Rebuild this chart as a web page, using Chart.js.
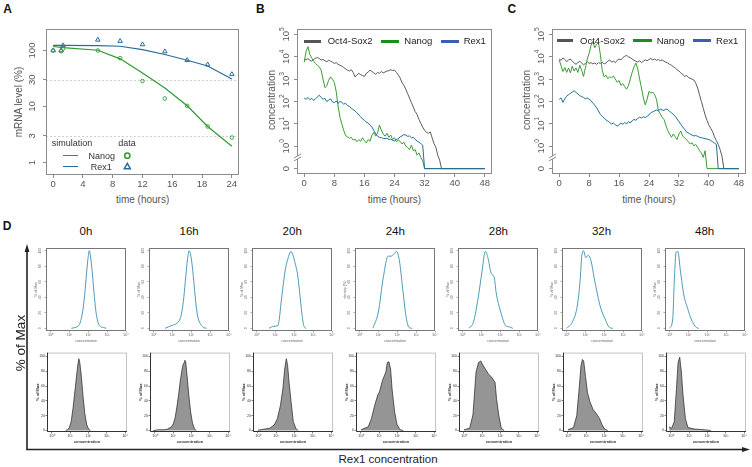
<!DOCTYPE html>
<html>
<head>
<meta charset="utf-8">
<title>Nanog / Rex1 decay</title>
<script src="https://cdn.jsdelivr.net/npm/chart.js@4.4.1/dist/chart.umd.min.js"></script>
<style>
  html, body { margin: 0; padding: 0; background: #fff; }
  body { position: relative; width: 752px; height: 467px; overflow: hidden;
         font-family: "Liberation Sans", Arial, Helvetica, sans-serif; }
  canvas { position: absolute; }
  .txt { position: absolute; white-space: nowrap; line-height: 1; transform: translate(-50%, -50%); }
  .rot { transform: translate(-50%, -50%) rotate(-90deg); }
  .lft { transform: translate(0, -50%); }
  .bar { position: absolute; }
</style>
</head>
<body>
<svg width="752" height="467" style="position:absolute;left:0;top:0">
  <line x1="27" y1="250" x2="27" y2="449.5" stroke="#222" stroke-width="1.6"/>
  <polygon points="27,244 24.6,252 29.4,252" fill="#222"/>
  <line x1="26.2" y1="449.5" x2="743" y2="449.5" stroke="#222" stroke-width="1.6"/>
  <polygon points="750,449.5 742,447.1 742,451.9" fill="#222"/>
</svg>
<script>
const FONT = '"Liberation Sans", Arial, Helvetica, sans-serif';

/* PANEL A - mRNA level, simulation vs data */
const aSimTimes  = [0, 1.33, 6, 9, 12, 15, 18, 20.75, 24];
const aNanogSim  = [118, 113, 101, 71, 39.5, 21.5, 10.3, 4.4, 1.95];
const aRex1Sim   = [123, 123, 122, 119, 104, 85, 67, 53, 31];
const aDataTimes = [0, 1.07, 1.33, 6, 9, 12, 15, 18, 20.75, 24];
const aNanogData = [100, 97, 108, 100, 73, 28.6, 13.9, 10.3, 4.4, 2.8];
const aRex1Data  = [100, 100, 123, 155, 147, 128, 96, 67, 56, 37.6];
const aXTicks  = [0, 4, 8, 12, 16, 20, 24];
const aXLabels = ['0', '4', '8', '12', '16', '18', '24'];
const aYTicks  = [1, 3, 10, 30, 100];
const aYLabels = ['1', '3', '10', '30', '100'];
const aDashed  = [3, 30];

/* PANELS B / C - log10 concentration every half hour, last value = "0" */
const trajStep = 0.5;
const trajEnd = 48;
const bOct4 = [
  3.90,3.86,3.92,3.84,3.80,3.88,3.93,3.97,3.92,3.85,
  3.88,3.82,3.78,3.84,3.80,3.76,3.70,3.74,3.66,3.62,
  3.58,3.52,3.46,3.40,3.36,3.42,3.30,3.10,3.18,3.26,
  3.20,3.16,3.12,3.26,3.32,3.40,3.34,3.28,3.22,3.30,
  3.26,3.34,3.28,3.32,3.36,3.38,3.42,3.38,3.40,3.30,
  3.18,3.05,2.85,2.72,2.55,2.35,2.15,1.95,1.75,1.55,
  1.42,1.20,1.02,0.85,0.72,0.62,0.58,0.64,0.38,0.12,
  -0.05,-0.40,-0.62,-1];
const bNanog = [
  3.75,4.25,4.45,4.10,3.95,3.80,3.70,3.62,3.55,3.40,
  3.00,2.62,2.70,2.95,3.10,3.00,2.85,2.45,1.80,1.30,
  1.00,0.70,0.48,0.42,0.35,0.40,0.28,0.32,0.20,0.30,
  0.22,0.38,0.25,0.15,0.30,0.22,0.50,0.62,0.45,0.60,
  0.95,0.72,0.55,0.45,0.58,0.40,0.50,0.30,0.38,0.20,
  0.28,0.22,0.10,0.18,0.00,-0.05,-0.15,0.05,-0.20,-0.15,
  -0.40,-0.30,-0.50,-0.65,-1];
const bRex1 = [
  2.15,2.10,2.18,2.08,2.14,2.05,2.12,2.20,2.28,2.18,
  2.10,2.14,2.00,2.06,2.12,1.98,1.95,2.02,1.92,2.00,
  1.96,1.88,1.92,1.82,1.78,1.70,1.64,1.58,1.50,1.40,
  1.32,1.22,1.16,1.08,1.04,0.94,0.86,0.70,0.55,0.45,
  0.40,0.38,0.35,0.34,0.36,0.30,0.32,0.26,0.24,0.30,
  0.34,0.42,0.46,0.52,0.50,0.44,0.46,0.38,0.40,0.30,
  0.24,0.18,0.12,0.05,-1];
const cOct4 = [
  3.90,3.84,3.95,3.88,3.78,3.86,3.90,3.80,3.72,3.66,
  3.74,3.80,3.72,3.64,3.70,3.78,3.70,3.74,3.68,3.72,
  3.66,3.74,3.70,3.76,3.68,3.72,3.80,3.86,3.76,3.80,
  3.74,3.84,3.90,3.86,3.96,4.02,4.06,4.00,3.96,3.90,
  3.84,3.80,3.76,3.82,3.74,3.80,3.86,3.82,3.88,3.92,
  3.86,3.90,3.84,3.88,3.82,3.86,3.80,3.76,3.72,3.66,
  3.62,3.56,3.50,3.42,3.36,3.28,3.22,3.12,3.16,3.08,
  3.04,3.00,2.96,2.82,2.60,2.30,2.00,1.70,1.40,1.15,
  0.95,0.80,0.65,0.42,0.25,0.08,-0.15,-0.45,-1];
const cNanog = [
  3.86,3.60,3.34,3.52,3.30,3.50,3.28,3.58,3.36,3.50,
  3.30,3.62,3.40,3.12,3.50,3.90,4.15,4.50,4.68,4.40,
  4.55,4.62,4.10,3.40,3.10,3.18,3.02,3.10,3.06,3.14,
  3.00,2.86,2.94,2.72,2.80,2.66,2.55,2.70,3.00,3.30,
  3.55,3.72,3.45,3.00,2.60,2.15,1.85,2.10,2.45,2.38,
  2.42,2.30,2.10,1.60,1.45,1.30,1.20,0.95,0.70,0.55,
  0.40,0.55,0.42,0.30,0.55,0.68,0.45,0.38,0.30,0.20,
  0.10,0.15,0.02,0.08,-0.05,-0.20,-0.30,-0.50,-0.20,-1];
const cRex1 = [
  2.09,2.16,1.96,2.12,2.24,2.30,2.36,2.42,2.48,2.40,
  2.34,2.26,2.22,2.18,2.12,2.16,2.10,2.04,1.92,1.84,
  1.72,1.58,1.42,1.34,1.26,1.18,1.12,1.06,1.00,1.04,
  0.96,0.90,0.96,1.04,0.98,1.06,1.00,1.10,1.04,1.14,
  1.20,1.16,1.24,1.30,1.26,1.32,1.28,1.34,1.40,1.50,
  1.54,1.58,1.62,1.58,1.66,1.62,1.60,1.66,1.64,1.56,
  1.50,1.42,1.34,1.22,1.10,0.98,0.86,0.76,0.64,0.60,
  0.54,0.50,0.46,0.48,0.44,0.40,0.38,0.36,0.34,0.32,
  0.30,0.26,0.20,0.14,0.08,-1];
const trajXTicks = [0, 8, 16, 24, 32, 40, 48];
const trajXLabels = ['0', '8', '16', '24', '32', '40', '48'];
const concTicks = [-1, 0, 1, 2, 3, 4, 5];
const concBase  = ['0', '10', '10', '10', '10', '10', '10'];
const concExp   = ['', '0', '1', '2', '3', '4', '5'];

/* PANEL D - Rex1 distributions (x = log10 concentration, y = % of max) */
const dTimes = ['0h', '16h', '20h', '24h', '28h', '32h', '48h'];
const sim0hX  = [1.1,1.3,1.5,1.6,1.7,1.8,1.9,2.0,2.05,2.1,2.2,2.3,2.4,2.5,2.6,2.8,2.95];
const sim0hY  = [0,1,4,10,22,42,70,94,100,95,74,46,22,9,3,1,0];
const sim16hX = [0.6,0.8,1.0,1.2,1.4,1.5,1.6,1.7,1.8,1.88,1.95,2.05,2.15,2.25,2.35,2.5,2.65,2.8];
const sim16hY = [0,2,4,6,12,22,40,66,90,100,96,80,55,30,14,5,1,0];
const sim20hX = [0.65,0.91,1.13,1.2,1.3,1.51,1.65,1.82,1.94,2.06,2.16,2.28,2.40,2.51,2.63];
const sim20hY = [0,2.6,3.5,12,34,74,89,99,93,82,71,47,19,2.6,0];
const sim24hX = [0.70,0.99,1.25,1.51,1.68,1.82,1.96,2.11,2.28,2.45,2.62,2.80];
const sim24hY = [0,21,65,93,93,96,99,87,52,17,1,0];
const sim28hX = [0.31,0.57,0.82,1.03,1.2,1.34,1.51,1.68,1.77,2.02,2.28,2.45,2.66];
const sim28hY = [0,8,39,74,99,91,71,65,47,21,3.5,2,0];
const sim32hX = [0,0.3,0.57,0.71,0.8,0.89,1.02,1.14,1.29,1.46,1.64,1.82,2.04,2.27,2.45];
const sim32hY = [0,8,30,61,93,100,91,94,87,65,43,25,12,1,0];
const sim48hX = [0,0.16,0.25,0.34,0.43,0.57,0.75,0.96,1.14,1.41,1.55];
const sim48hY = [0,12,65,98,99,74,43,25,12,1,0];
const hist0hX  = [0.75,0.85,0.95,1.05,1.15,1.25,1.35,1.42,1.47,1.52,1.6,1.7,1.8,1.9,2.0,2.1];
const hist0hY  = [0,1,4,12,30,52,75,90,97,92,75,46,22,8,2,0];
const hist16hX = [-0.1,0.2,0.5,0.7,0.9,1.0,1.1,1.2,1.3,1.4,1.5,1.55,1.6,1.63,1.68,1.75,1.85,1.95,2.05,2.15,2.25];
const hist16hY = [0,1,1,2,5,9,17,32,50,70,85,90,92,95,93,75,48,25,10,3,0];
const hist20hX = [0,0.63,0.89,1.06,1.23,1.36,1.46,1.55,1.62,1.70,1.81,1.93,2.07,2.19];
const hist20hY = [0.5,3,7.5,16,34,56,83,97,88,65,39,12,3,0];
const hist24hX = [0,0.40,0.57,0.75,0.92,1.01,1.18,1.36,1.44,1.53,1.62,1.70,1.84,1.97,2.14,2.31];
const hist24hY = [1,5,16,34,48,52,68,79,92,93,83,56,25,8,1,0];
const hist28hX = [0,0.31,0.49,0.57,0.66,0.80,0.92,1.0,1.17,1.35,1.52,1.70,1.78,1.90,2.04,2.2];
const hist28hY = [1,3,21,48,79,92,94,90,83,76,72,65,43,21,3,0];
const hist32hX = [0,0.3,0.48,0.61,0.71,0.79,0.86,0.96,1.07,1.2,1.38,1.55,1.73,1.86,2.0,2.18];
const hist32hY = [1,4,20,56,87,96,94,73,51,39,28,23,16,8,2,0];
const hist48hX = [-0.1,0.04,0.18,0.3,0.39,0.48,0.57,0.66,0.79,0.93,1.29,1.82,2.18];
const hist48hY = [5,3,12,56,92,99,79,48,16,4,2,1,0];
const dSimX = [sim0hX, sim16hX, sim20hX, sim24hX, sim28hX, sim32hX, sim48hX];
const dSimY = [sim0hY, sim16hY, sim20hY, sim24hY, sim28hY, sim32hY, sim48hY];
const dHistX = [hist0hX, hist16hX, hist20hX, hist24hX, hist28hX, hist32hX, hist48hX];
const dHistY = [hist0hY, hist16hY, hist20hY, hist24hY, hist28hY, hist32hY, hist48hY];
const dSimYTitles = ['% of Max', '% of Max', '% of Max', 'density (%)', '% of Max', '% of Max', '% of Max'];
const decadeTicks = [0, 1, 2, 3, 4];
const decadeLabels = ['10\u2070', '10\u00b9', '10\u00b2', '10\u00b3', '10\u2074'];
const pctTicks = [0, 20, 40, 60, 80, 100];
const pctLabels = ['0', '20', '40', '60', '80', '100'];

/* colours */
const GREEN_A = '#2f9a30', BLUE_A = '#2a6c9b';
const GRAY_L = '#5a5a5a', GREEN_L = '#3b9b33', TEAL_L = '#216e97';
const GRAY_K = '#555555', GREEN_K = '#17901a', BLUE_K = '#3a5fb2';
const SIM_D = '#3b8fb0';
const AXIS_TXT = '#555';

/* HELPERS */
function text(str, x, y, size, o = {}) {
  const d = document.createElement('div');
  d.className = 'txt' + (o.rot ? ' rot' : '') + (o.left ? ' lft' : '');
  d.textContent = str;
  d.style.left = x + 'px';
  d.style.top = y + 'px';
  d.style.fontSize = size + 'px';
  d.style.color = o.color || '#333';
  if (o.bold) d.style.fontWeight = 'bold';
  document.body.appendChild(d);
}

function bar(x, y, w, h, color) {
  const d = document.createElement('div');
  d.className = 'bar';
  d.style.cssText += `left:${x}px;top:${y - h / 2}px;width:${w}px;height:${h}px;background:${color}`;
  document.body.appendChild(d);
}

function makeCanvas(rect, m) {
  const c = document.createElement('canvas');
  const w = rect[2] + m.l + m.r, h = rect[3] + m.t + m.b;
  c.width = w; c.height = h;
  c.style.left = (rect[0] - m.l) + 'px';
  c.style.top = (rect[1] - m.t) + 'px';
  c.style.width = w + 'px';
  c.style.height = h + 'px';
  document.body.appendChild(c);
  return c;
}

function pts(xs, ys) {
  return xs.map((x, i) => ({ x: x, y: ys[i] }));
}

function traj(vals) {
  const p = vals.map((v, i) => ({ x: i * trajStep, y: v }));
  p.push({ x: trajEnd, y: vals[vals.length - 1] });
  return p;
}

function xAxis(m, min, max, ticks, labels, o) {
  return {
    type: 'linear', min: min, max: max,
    afterBuildTicks: s => { s.ticks = ticks.map(v => ({ value: v })); },
    afterFit: s => { s.height = m.b; },
    border: { display: false },
    grid: { drawOnChartArea: false, tickLength: o.tl, tickColor: o.tc, lineWidth: o.tw || 1 },
    ticks: {
      autoSkip: false, maxRotation: 0, minRotation: 0, padding: o.pad, color: o.color,
      font: { family: FONT, size: o.size },
      callback: (v, i) => labels[i]
    },
    title: o.title ? {
      display: true, text: o.title, color: o.titleColor || o.color, padding: 0,
      font: { family: FONT, size: o.titleSize, weight: o.titleBold ? 'bold' : 'normal' }
    } : { display: false }
  };
}

function yAxis(m, type, min, max, ticks, o) {
  return {
    type: type, min: min, max: max,
    afterBuildTicks: s => { s.ticks = ticks.map(v => ({ value: v })); },
    afterFit: s => { s.width = m.l; },
    border: { display: false },
    grid: { drawOnChartArea: false, tickLength: o.tl, tickColor: o.tc, lineWidth: o.tw || 1 },
    ticks: o.labels ? {
      autoSkip: false, padding: o.pad, color: o.color,
      font: { family: FONT, size: o.size },
      callback: (v, i) => o.labels[i]
    } : { display: false },
    title: o.title ? {
      display: true, text: o.title, color: o.titleColor || o.color, padding: 0,
      font: { family: FONT, size: o.titleSize, weight: o.titleBold ? 'bold' : 'normal' }
    } : { display: false }
  };
}

function baseOptions(m, x, y, plugins) {
  return {
    responsive: false, animation: false, devicePixelRatio: 1, events: [],
    layout: { padding: { left: 0, top: m.t, right: m.r, bottom: 0 } },
    plugins: Object.assign({ legend: { display: false }, tooltip: { enabled: false } }, plugins),
    scales: { x: x, y: y }
  };
}

/* PLUGINS */
const frame = {
  id: 'frame',
  afterDatasetsDraw(chart, args, o) {
    const { ctx, chartArea: a } = chart;
    ctx.save();
    ctx.lineWidth = 1;
    ctx.strokeStyle = o.color;
    ctx.strokeRect(a.left + 0.5, a.top + 0.5, a.width - 1, a.height - 1);
    if (o.axis) {
      ctx.strokeStyle = o.axis;
      ctx.beginPath();
      ctx.moveTo(a.left + 0.5, a.top);
      ctx.lineTo(a.left + 0.5, a.bottom - 0.5);
      ctx.lineTo(a.right, a.bottom - 0.5);
      ctx.stroke();
    }
    ctx.restore();
  }
};

const refs = {
  id: 'refs',
  beforeDatasetsDraw(chart, args, o) {
    if (!o.values) return;
    const { ctx, chartArea: a } = chart;
    ctx.save();
    ctx.strokeStyle = o.color;
    ctx.lineWidth = 1;
    ctx.setLineDash([2, 2]);
    o.values.forEach(v => {
      const y = Math.round(chart.scales.y.getPixelForValue(v)) + 0.5;
      ctx.beginPath(); ctx.moveTo(a.left, y); ctx.lineTo(a.right, y); ctx.stroke();
    });
    ctx.restore();
  }
};

const brk = {
  id: 'brk',
  afterDraw(chart, args, o) {
    if (o.value == null) return;
    const { ctx, chartArea: a } = chart;
    const y = chart.scales.y.getPixelForValue(o.value), x = a.left + 0.5;
    ctx.save();
    ctx.fillStyle = '#fff';
    ctx.fillRect(x - 4, y - 1.5, 8, 3);
    ctx.strokeStyle = o.color;
    ctx.lineWidth = 1;
    ctx.beginPath();
    ctx.moveTo(x - 3.5, y + 0.5); ctx.lineTo(x + 3.5, y - 3.5);
    ctx.moveTo(x - 3.5, y + 3.5); ctx.lineTo(x + 3.5, y - 0.5);
    ctx.stroke();
    ctx.restore();
  }
};

// rotated y tick labels (R style), with optional superscript
const rotY = {
  id: 'rotY',
  afterDraw(chart, args, o) {
    if (!o.values) return;
    const { ctx, chartArea: a } = chart;
    const s = chart.scales.y;
    const supSize = o.size * 0.7;
    ctx.save();
    ctx.fillStyle = o.color;
    ctx.textBaseline = 'middle';
    ctx.textAlign = 'left';
    o.values.forEach((v, i) => {
      const base = o.base[i], sup = o.exp ? o.exp[i] : '';
      ctx.font = o.size + 'px ' + FONT;
      const wb = ctx.measureText(base).width;
      ctx.font = supSize + 'px ' + FONT;
      const ws = sup ? ctx.measureText(sup).width : 0;
      ctx.save();
      ctx.translate(a.left - o.offset, s.getPixelForValue(v));
      ctx.rotate(-Math.PI / 2);
      const x0 = -(wb + ws) / 2;
      ctx.font = o.size + 'px ' + FONT;
      ctx.fillText(base, x0, 0);
      if (sup) {
        ctx.font = supSize + 'px ' + FONT;
        ctx.fillText(sup, x0 + wb, -o.size * 0.42);
      }
      ctx.restore();
    });
    ctx.restore();
  }
};

/* PANEL A */
const mA = { l: 24, r: 6, t: 4, b: 18 };
new Chart(makeCanvas([46, 28, 193, 147], mA), {
  type: 'line',
  data: {
    datasets: [
      { data: pts(aDataTimes, aNanogData), showLine: false, pointStyle: 'circle', pointRadius: 1.8,
        borderColor: GREEN_A, backgroundColor: 'rgba(0,0,0,0)', pointBorderWidth: 0.9 },
      { data: pts(aDataTimes, aRex1Data), showLine: false, pointStyle: 'triangle', pointRadius: 2.6,
        borderColor: BLUE_A, backgroundColor: 'rgba(0,0,0,0)', pointBorderWidth: 1 },
      { data: pts(aSimTimes, aNanogSim), borderColor: GREEN_A, borderWidth: 1.2, pointRadius: 0 },
      { data: pts(aSimTimes, aRex1Sim), borderColor: BLUE_A, borderWidth: 1.2, pointRadius: 0 }
    ]
  },
  options: baseOptions(mA,
    xAxis(mA, -0.96, 24.96, aXTicks, aXLabels, { tl: 3, tc: '#8c8c8c', pad: 1, color: AXIS_TXT, size: 9.5 }),
    yAxis(mA, 'logarithmic', 0.613, 242, aYTicks, { tl: 3, tc: '#8c8c8c' }),
    {
      frame: { color: '#8c8c8c' },
      refs: { values: aDashed, color: '#cfcfcf' },
      rotY: { values: aYTicks, base: aYLabels, offset: 13.2, size: 9.5, color: AXIS_TXT }
    }),
  plugins: [frame, refs, rotY]
});

/* PANELS B and C */
function trajChart(rect, oct4, nanog, rex1) {
  const m = { l: 24, r: 6, t: 4, b: 18 };
  new Chart(makeCanvas(rect, m), {
    type: 'line',
    data: {
      datasets: [
        { data: traj(rex1), borderColor: TEAL_L, borderWidth: 1, pointRadius: 0 },
        { data: traj(nanog), borderColor: GREEN_L, borderWidth: 1, pointRadius: 0 },
        { data: traj(oct4), borderColor: GRAY_L, borderWidth: 1, pointRadius: 0 }
      ]
    },
    options: baseOptions(m,
      xAxis(m, -1.92, 49.92, trajXTicks, trajXLabels, { tl: 3, tc: '#8c8c8c', pad: 1, color: AXIS_TXT, size: 9.5 }),
      yAxis(m, 'linear', -1.24, 5.24, concTicks, { tl: 3, tc: '#8c8c8c' }),
      {
        frame: { color: '#8c8c8c' },
        brk: { value: -0.5, color: '#8c8c8c' },
        rotY: { values: concTicks, base: concBase, exp: concExp, offset: 10.5, size: 9.5, color: AXIS_TXT }
      }),
    plugins: [frame, brk, rotY]
  });
}
trajChart([297, 29, 195, 145], bOct4, bNanog, bRex1);
trajChart([552, 29, 194, 145], cOct4, cNanog, cRex1);

/* PANEL D */
const colStep = 103.1;
dTimes.forEach((label, i) => {
  // simulated density (top row)
  const mt = { l: 12, r: 3, t: 2, b: 12 };
  new Chart(makeCanvas([Math.round(46 + colStep * i), 248, 80, 83], mt), {
    type: 'line',
    data: { datasets: [{ data: pts(dSimX[i], dSimY[i]), borderColor: SIM_D, borderWidth: 0.9,
                         pointRadius: 0, cubicInterpolationMode: 'monotone' }] },
    options: baseOptions(mt,
      xAxis(mt, -0.25, 4.0, decadeTicks, decadeLabels,
        { tl: 1.5, tc: '#777', tw: 0.6, pad: 0, color: '#666', size: 3.8, title: 'concentration', titleSize: 3.6 }),
      yAxis(mt, 'linear', -3.5, 103.5, pctTicks,
        { tl: 1.5, tc: '#777', tw: 0.6, color: '#666', title: dSimYTitles[i], titleSize: 3.6 }),
      {
        frame: { color: '#777' },
        rotY: { values: pctTicks, base: pctLabels, offset: 5.5, size: 3.5, color: '#666' }
      }),
    plugins: [frame, rotY]
  });

  // measured histogram (bottom row)
  const mb = { l: 12, r: 3, t: 2, b: 12 };
  new Chart(makeCanvas([Math.round(47 + colStep * i), 352, 80, 80], mb), {
    type: 'line',
    data: { datasets: [{ data: pts(dHistX[i], dHistY[i]), borderColor: '#222', borderWidth: 0.7,
                         backgroundColor: '#959595', fill: 'origin', pointRadius: 0 }] },
    options: baseOptions(mb,
      xAxis(mb, -0.27, 4.1, decadeTicks, decadeLabels,
        { tl: 1.5, tc: '#333', tw: 0.6, pad: 0, color: '#333', size: 3.8,
          title: 'concentration', titleSize: 4, titleBold: true }),
      yAxis(mb, 'linear', -2, 105.3, pctTicks,
        { tl: 1.5, tc: '#333', tw: 0.6, pad: 0.5, color: '#333', size: 3.5, labels: pctLabels,
          title: '% of Max', titleSize: 4, titleBold: true }),
      { frame: { color: '#c4c4c4', axis: '#333' } }),
    plugins: [frame]
  });

  text(label, 86 + colStep * i, 232, 11.5, { color: '#111' });
});

/* TEXT: panel letters, axis titles, legends */
text('A', 7.5, 9, 12, { bold: true, color: '#111' });
text('B', 260.3, 9, 12, { bold: true, color: '#111' });
text('C', 511.8, 9, 12, { bold: true, color: '#111' });
text('D', 7.2, 225.5, 12, { bold: true, color: '#111' });

text('mRNA level (%)', 19.3, 101.7, 10, { rot: true, color: AXIS_TXT });
text('time (hours)', 142.6, 200, 10, { color: AXIS_TXT });
text('concentration', 271.7, 100, 10, { rot: true, color: AXIS_TXT });
text('time (hours)', 394.5, 200, 10, { color: AXIS_TXT });
text('concentration', 526.7, 100, 10, { rot: true, color: AXIS_TXT });
text('time (hours)', 649, 200, 10, { color: AXIS_TXT });

text('% of Max', 20.5, 343, 13.5, { rot: true, color: '#222' });
text('Rex1 concentration', 388, 460, 11.5, { color: '#222' });

// legend A
text('simulation', 51.7, 142.7, 9, { left: true, color: '#333' });
text('data', 118.3, 142.7, 9, { left: true, color: '#333' });
bar(62.7, 155.7, 15.6, 1.6, GREEN_A);
text('Nanog', 101.7, 155.7, 9, { color: '#333' });
bar(62.7, 166.7, 15.6, 1.6, BLUE_A);
text('Rex1', 101.3, 166.7, 9, { color: '#333' });
const legMarks = document.createElementNS('http://www.w3.org/2000/svg', 'svg');
legMarks.setAttribute('width', '752');
legMarks.setAttribute('height', '467');
legMarks.style.cssText = 'position:absolute;left:0;top:0';
legMarks.innerHTML =
  `<circle cx="127.3" cy="155.7" r="2.6" fill="none" stroke="${GREEN_A}" stroke-width="1.5"/>` +
  `<polygon points="127.3,163.3 124.2,168.8 130.4,168.8" fill="none" stroke="${BLUE_A}" stroke-width="1.4"/>`;
document.body.appendChild(legMarks);

// legends B and C
[[304.3, 41.3], [556.7, 40.7]].forEach(([x0, y]) => {
  bar(x0, y, 16.7, 3, GRAY_K);
  text('Oct4-Sox2', x0 + 23.4, y, 9.5, { left: true, color: '#222' });
  bar(x0 + 76.7, y, 18.3, 3, GREEN_K);
  text('Nanog', x0 + 100, y, 9.5, { left: true, color: '#222' });
  bar(x0 + 136.7, y, 17.8, 3, BLUE_K);
  text('Rex1', x0 + 159.4, y, 9.5, { left: true, color: '#222' });
});
</script>
</body>
</html>
